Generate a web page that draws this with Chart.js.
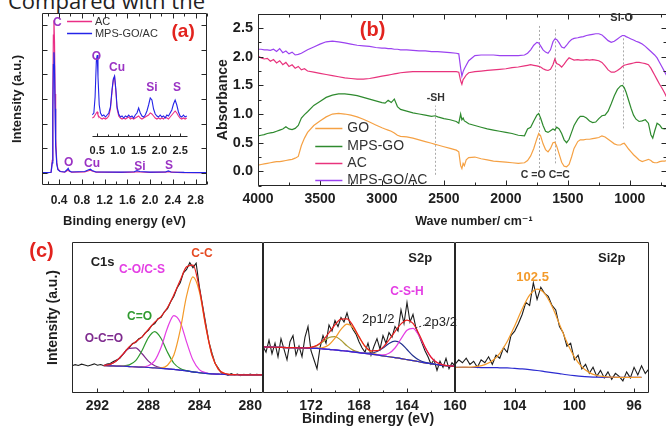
<!DOCTYPE html>
<html>
<head>
<meta charset="utf-8">
<script src="https://cdn.jsdelivr.net/npm/chart.js@4.4.1/dist/chart.umd.min.js"></script>
<style>
  html, body { margin: 0; padding: 0; background: #fff; }
  body { width: 666px; height: 426px; position: relative; overflow: hidden; }
  canvas { position: absolute; }
  #cut { position: absolute; left: 8px; top: -12px; font: 22px 'Open Sans', sans-serif; line-height: 24px; color: #222; white-space: nowrap; }
</style>
</head>
<body>
<div id="cut">Compared with the</div>
<canvas id="chartA" width="215" height="232" style="left:0;top:0"></canvas>
<canvas id="chartInset" width="116" height="120" style="left:82px;top:40px"></canvas>
<canvas id="chartB" width="462" height="232" style="left:205px;top:0"></canvas>
<canvas id="chartC1" width="273" height="196" style="left:0;top:230px"></canvas>
<canvas id="chartC2" width="216" height="196" style="left:253px;top:230px"></canvas>
<canvas id="chartC3" width="214" height="196" style="left:445px;top:230px"></canvas>
<script>
// ---- (a) EDS spectra ----
const edsEnergy = [0.10,0.20,0.26,0.28,0.29,0.30,0.31,0.32,0.33,0.34,
                   0.36,0.38,0.42,0.50,0.54,0.56,0.58,0.62,
                   0.85,0.92,0.95,0.98,1.05,
                   1.50,1.72,1.77,1.82,2.00,
                   2.27,2.32,2.37,2.60,3.00];
const edsAC =  [0,0,0.02,0.5,3.0,5.6,6.2,5.3,3.2,1.4,
                0.4,0.15,0.05,0.02,0.08,0.12,0.06,0.02,
                0.03,0.08,0.1,0.07,0.02,
                0.01,0.02,0.04,0.03,0.01,
                0.02,0.04,0.02,0,0];
const edsMPS = [0,0,0.02,0.4,2.4,4.4,4.9,4.3,2.6,1.1,
                0.35,0.12,0.05,0.03,0.12,0.18,0.08,0.03,
                0.05,0.12,0.14,0.09,0.03,
                0.02,0.04,0.08,0.05,0.02,
                0.03,0.07,0.03,0.01,0];
const edsTicks = [0.2,0.4,0.6,0.8,1.0,1.2,1.4,1.6,1.8,2.0,2.2,2.4,2.6,2.8,3.0];
const edsTickLabels = [0.4,0.8,1.2,1.6,2.0,2.4,2.8];
const edsIntensityTicks = [0,1,2,3,4,5,6];
// inset (zoomed)
const insetEnergy = [0.38,0.42,0.45,0.48,0.50,0.52,0.55,0.58,0.62,
  0.66,0.70,0.74,0.78,0.82,0.86,0.89,0.92,0.95,0.98,
  1.02,1.06,1.10,1.14,1.18,1.22,1.26,1.30,1.34,1.38,1.42,1.46,1.50,1.54,1.58,1.62,1.66,1.70,1.74,1.78,1.82,1.86,1.90,1.94,1.98,
  2.02,2.06,2.10,2.14,2.18,2.22,2.26,2.30,2.34,2.38,2.42,2.46,2.50,2.54,2.58,2.62,2.66];
const insetMPS = [22,24,40,76,82,60,32,24,21,
  22,20,22,24,30,48,58,61,48,30,
  23,20,21,19,21,20,22,20,21,19,22,24,29,24,21,20,22,26,32,39,37,28,23,21,20,
  22,20,21,19,22,21,24,27,33,37,32,25,21,20,22,20,21];
const insetAC = [19,20,22,24,25,22,20,19,18,
  19,18,19,21,28,46,57,60,46,28,
  21,19,18,19,18,19,20,18,19,18,19,20,21,19,18,19,20,21,22,24,23,21,19,18,19,
  18,19,18,20,19,18,20,22,24,26,24,21,19,18,19,18,19];
const insetTicks = [0.5,0.75,1.0,1.25,1.5,1.75,2.0,2.25,2.5];
const insetTickLabels = [0.5,1.0,1.5,2.0,2.5];

// ---- (b) FTIR ----
const waveNumber = [4000,3975,3950,3925,3900,3875,3850,3825,3800,3775,3750,3725,3700,3675,3650,3625,3600,
  3550,3500,3450,3400,3350,3300,3250,3200,3150,3100,3050,3000,
  2975,2950,2925,2900,2875,2850,2800,2750,2700,2650,2600,2570,2550,2500,2450,2400,
  2380,2365,2355,2345,2335,2320,2300, 2250,2200,2150,2100,2050,2000,1950,1900,1850,
  1825,1800,1775,1750,1735,1720,1700,1680,1660,1640, 1620,1605,1590,1570,1550,1530,1510,1490,1470,1450, 1420,1400,
  1375,1350,1325,1300,1275,1250,1225,1200, 1175,1150,1125,1100,1075,1060,1045,1030,
  1010,990,970,950,925,900,875,850, 830,815,800,780,760,740,720,700];
const absGO = [0.11,0.12,0.13,0.14,0.15,0.16,0.17,0.17,0.18,0.19,0.20,0.21,0.23,0.26,0.45,0.58,0.68,
  0.80,0.88,0.95,1.00,1.01,1.00,0.98,0.95,0.91,0.86,0.81,0.76,
  0.74,0.72,0.70,0.67,0.63,0.61,0.60,0.58,0.55,0.52,0.49,0.47,0.46,0.43,0.40,0.37,
  0.34,0.10,0.05,0.14,0.10,0.20,0.24, 0.25,0.22,0.20,0.18,0.17,0.16,0.15,0.14,0.15,
  0.19,0.27,0.40,0.57,0.66,0.62,0.48,0.38,0.34,0.40, 0.50,0.51,0.44,0.30,0.16,0.09,0.08,0.12,0.25,0.40, 0.52,0.55,
  0.55,0.56,0.56,0.57,0.58,0.59,0.62,0.60, 0.56,0.52,0.48,0.46,0.46,0.48,0.49,0.45,
  0.39,0.34,0.29,0.25,0.20,0.17,0.19,0.21, 0.19,0.16,0.15,0.15,0.17,0.18,0.18,0.19];
const absMPSGO = [0.62,0.63,0.64,0.66,0.67,0.68,0.70,0.72,0.74,0.78,0.74,0.73,0.75,0.80,0.93,0.99,1.04,
  1.15,1.22,1.29,1.33,1.35,1.35,1.34,1.32,1.29,1.26,1.23,1.20,
  1.19,1.24,1.20,1.26,1.13,1.08,1.05,1.02,1.00,0.98,0.96,0.97,0.95,0.92,0.90,0.87,
  0.84,1.00,0.90,0.93,0.88,0.86,0.83, 0.80,0.77,0.74,0.72,0.70,0.68,0.66,0.63,0.62,
  0.74,0.77,0.88,0.98,1.01,0.93,0.80,0.70,0.68,0.71, 0.74,0.72,0.77,0.74,0.66,0.55,0.50,0.56,0.68,0.80, 0.91,0.96,
  0.96,0.93,0.88,0.85,0.86,0.92,0.97,0.98, 1.05,1.18,1.32,1.43,1.49,1.50,1.46,1.38,
  1.24,1.10,0.98,0.91,0.87,0.88,0.90,0.84, 0.64,0.58,0.70,0.84,0.81,0.75,0.74,0.75];
const absAC = [2.01,1.98,1.96,1.97,1.92,1.95,1.89,1.93,1.86,1.90,1.83,1.86,1.80,1.83,1.77,1.79,1.75,
  1.73,1.71,1.69,1.67,1.65,1.63,1.62,1.61,1.61,1.62,1.64,1.66,
  1.67,1.68,1.69,1.70,1.71,1.72,1.73,1.74,1.74,1.74,1.74,1.74,1.74,1.74,1.74,1.74,
  1.73,1.58,1.52,1.60,1.63,1.68,1.72, 1.74,1.75,1.76,1.77,1.78,1.79,1.81,1.82,1.84,
  1.85,1.86,1.85,1.84,1.83,1.82,1.79,1.77,1.76,1.78, 1.86,1.96,1.88,1.86,1.82,1.87,1.93,1.98,1.96,1.94, 1.95,1.94,
  1.94,1.95,1.94,1.95,1.94,1.93,1.90,1.84, 1.77,1.73,1.73,1.76,1.80,1.83,1.85,1.86,
  1.87,1.88,1.89,1.90,1.90,1.89,1.88,1.86, 1.80,1.74,1.68,1.60,1.52,1.45,1.37,1.28];
const absMPSGOAC = [2.13,2.13,2.12,2.12,2.11,2.13,2.09,2.14,2.07,2.10,2.05,2.08,2.03,2.04,2.06,2.09,2.12,
  2.17,2.22,2.26,2.27,2.26,2.24,2.22,2.20,2.19,2.18,2.16,2.15,
  2.15,2.14,2.14,2.13,2.13,2.12,2.12,2.11,2.10,2.10,2.09,2.09,2.09,2.08,2.07,2.06,
  2.05,1.80,1.66,1.74,1.79,1.85,1.93, 2.02,2.03,2.03,2.03,2.02,2.02,2.02,2.02,2.03,
  2.06,2.12,2.20,2.25,2.24,2.19,2.12,2.08,2.06,2.12, 2.26,2.31,2.30,2.24,2.17,2.15,2.20,2.26,2.30,2.32, 2.33,2.34,
  2.35,2.37,2.38,2.39,2.40,2.40,2.38,2.33, 2.28,2.25,2.27,2.31,2.35,2.37,2.37,2.35,
  2.33,2.31,2.29,2.27,2.25,2.22,2.18,2.13, 2.09,2.06,2.03,1.98,1.90,1.82,1.74,1.66];
const ftirSeries = ['GO', 'MPS-GO', 'AC', 'MPS-GO/AC'];
const waveTicks = [750,1000,1250,1500,1750,2000,2250,2500,2750,3000,3250,3500,3750,4000];
const waveTickLabels = [1000,1500,2000,2500,3000,3500,4000];
const absTicks = [-0.25,0,0.25,0.5,0.75,1.0,1.25,1.5,1.75,2.0,2.25,2.5,2.75];
const absTickLabels = [0,0.5,1.0,1.5,2.0,2.5];

// ---- (c) XPS C1s ----
const c1sRawBE = [294,293.75,293.5,293.25,293,292.75,292.5,292.25,292,291.75,291.5,291.25,291,290.75,290.5,290.25,
  290,289.75,289.5,289.25,289,288.75,288.5,288.25,288,287.75,287.5,287.25,287,286.75,286.5,286.25,
  286,285.75,285.5,285.25,285,284.75,284.5,284.25,284,283.75,283.5,283.25,283,282.75,282.5,282.25,
  282,281.75,281.5,281.25,281,280.75,280.5,280.25,280,279.75,279.5,279.25,279];
const c1sRaw = [18.0,18.8,18.2,19.1,18.5,17.9,18.6,19.3,18.4,18.9,18.1,19.2,19.5,20.8,21.9,23.0,
  25.5,28.4,30.0,32.8,33.5,35.9,37.0,39.8,41.5,44.6,46.0,49.2,50.1,53.8,55.9,60.4,
  64.1,69.5,73.0,79.6,81.8,86.3,83.0,85.9,70.5,58.2,46.1,34.0,26.2,19.5,16.3,13.1,
  12.9,11.6,12.8,11.9,12.5,11.5,12.4,11.8,12.6,11.7,12.3,12.0,12.2];
const c1sFitBE = [291.5,291,290.5,290,289.5,289,288.5,288,287.5,287,286.5,286,285.5,285,284.5,284,283.5,283,282.5,282,281.5,281,280.5,280,279.5,279];
const c1sBg    = [18.1,18.0,17.8,17.7,17.5,17.3,17.1,16.9,16.6,16.3,16.0,15.6,15.1,14.6,14.0,13.4,13.0,12.7,12.5,12.3,12.2,12.1,12.0,12.0,12.0,12.0];
const c1sOCO   = [18.3,19.0,21.3,25.6,29.6,29.9,26.0,21.1,18.0,16.6,16.0,15.6,15.1,14.6,14.0,13.4,13.0,12.7,12.5,12.3,12.2,12.1,12.0,12.0,12.0,12.0];
const c1sCO2   = [18.1,18.0,17.8,17.9,18.6,21.4,28.1,36.7,40.6,36.1,27.0,19.7,16.2,14.8,14.0,13.4,13.0,12.7,12.5,12.3,12.2,12.1,12.0,12.0,12.0,12.0];
const c1sCOCS  = [18.1,18.0,17.8,17.7,17.5,17.3,17.3,18.1,21.5,30.3,43.2,51.3,46.9,33.7,21.8,15.5,13.4,12.7,12.5,12.3,12.2,12.1,12.0,12.0,12.0,12.0];
const c1sCC    = [18.1,18.0,17.8,17.7,17.5,17.3,17.1,16.9,16.6,16.7,18.4,25.2,41.7,64.3,76.9,67.2,44.1,24.9,15.7,12.9,12.2,12.1,12.0,12.0,12.0,12.0];
const c1sSum   = [18.3,19.0,21.3,25.8,30.7,34.0,37.2,42.1,46.9,50.8,56.6,65.0,74.6,83.6,84.7,69.3,44.5,24.9,15.7,12.9,12.2,12.1,12.0,12.0,12.0,12.0];
const c1sTicks = [280,282,284,286,288,290,292,294];
const c1sTickLabels = [292, 288, 284, 280];

// ---- (c) XPS S2p ----
const s2pRawBE = [176,175.75,175.5,175.25,175,174.75,174.5,174.25,174,173.75,173.5,173.25,173,172.75,172.5,172.25,
  172,171.75,171.5,171.25,171,170.75,170.5,170.25,170,169.75,169.5,169.25,169,168.75,168.5,168.25,
  168,167.75,167.5,167.25,167,166.75,166.5,166.25,166,165.75,165.5,165.25,165,164.75,164.5,164.25,
  164,163.75,163.5,163.25,163,162.75,162.5,162.25,162,161.75,161.5,161.25,161,160.75,160.5,160.25,160];
const s2pRaw = [31,27,35,26,33,24,36,29,22,34,38,25,31,24,37,44,
  28,22,16,30,38,33,45,41,48,44,50,47,53,46,42,39,
  34,30,27,33,25,31,36,29,38,33,40,37,44,41,55,46,
  60,47,52,43,38,33,28,24,19,22,15,21,17,23,16,20,18];
const s2pFitBE = [176,175.5,175,174.5,174,173.5,173,172.5,172,171.5,171,170.5,170,169.5,169,168.5,168,167.5,167,166.5,166,165.5,165,164.5,164,163.5,163,162.5,162,161.5,161,160.5,160];
const s2pBg   = [30.5,30.4,30.3,30.2,30.1,30.0,29.9,29.8,29.7,29.5,29.2,28.9,28.5,28.1,27.7,27.2,26.7,26.2,25.7,25.2,24.6,24.0,23.4,22.8,22.1,21.4,20.7,20.0,19.4,18.8,18.3,18.0,17.8];
const s2pOx1  = [30.5,30.4,30.3,30.2,30.1,30.0,29.9,29.8,30.2,31.4,34.0,36.8,37.4,34.9,31.2,28.4,27.0,26.2,25.7,25.2,24.6,24.0,23.4,22.8,22.1,21.4,20.7,20.0,19.4,18.8,18.3,18.0,17.8];
const s2pOx2  = [30.5,30.4,30.3,30.2,30.1,30.0,29.9,29.8,29.7,29.7,30.1,32.0,36.3,42.1,45.6,43.3,37.0,30.8,27.2,25.5,24.6,24.0,23.4,22.8,22.1,21.4,20.7,20.0,19.4,18.8,18.3,18.0,17.8];
const s2pP12  = [30.5,30.4,30.3,30.2,30.1,30.0,29.9,29.8,29.7,29.5,29.2,28.9,28.5,28.1,27.7,27.2,26.7,26.4,26.4,27.5,29.8,32.8,34.3,32.8,28.8,24.7,21.9,20.3,19.4,18.8,18.3,18.0,17.8];
const s2pP32  = [30.5,30.4,30.3,30.2,30.1,30.0,29.9,29.8,29.7,29.5,29.2,28.9,28.5,28.1,27.7,27.2,26.7,26.2,25.7,25.3,25.2,26.3,29.8,35.8,41.6,42.8,37.9,30.2,23.8,20.2,18.6,18.0,17.8];
const s2pSum  = [30.5,30.4,30.3,30.2,30.1,30.0,29.9,29.8,30.2,31.6,34.9,39.9,45.2,48.9,49.1,44.5,37.3,31.0,27.9,28.0,30.4,35.1,40.7,45.8,48.3,46.1,39.1,30.5,23.8,20.2,18.6,18.0,17.8];
const s2pTicks = [160,162,164,166,168,170,172,174,176];
const s2pTickLabels = [172, 168, 164, 160];

// ---- (c) XPS Si2p ----
const si2pRawBE = [108,107.75,107.5,107.25,107,106.75,106.5,106.25,106,105.75,105.5,105.25,105,104.75,104.5,104.25,
  104,103.75,103.5,103.25,103,102.75,102.5,102.25,102,101.75,101.5,101.25,101,100.75,100.5,100.25,
  100,99.75,99.5,99.25,99,98.75,98.5,98.25,98,97.75,97.5,97.25,97,96.75,96.5,96.25,96,95.75,95.5,95.25,95];
const si2pRaw = [19,22,20,23,19,21,17,22,20,24,19,25,23,30,27,38,
  41,46,52,60,58,73,62,70,66,64,58,55,44,40,31,33,
  22,25,16,19,13,17,11,15,10,14,9,13,11,8,14,10,17,12,18,13,16];
const si2pFitBE = [108,107.5,107,106.5,106,105.5,105,104.5,104,103.5,103,102.5,102,101.5,101,100.5,100,99.5,99,98.5,98,97.5,97,96.5,96,95.5];
const si2pBg  = [17.0,17.0,16.9,16.9,16.8,16.8,16.7,16.6,16.3,16.0,15.5,14.9,14.2,13.5,12.8,12.1,11.5,11.0,10.7,10.5,10.4,10.4,10.4,10.4,10.4,10.4];
const si2pFit = [17.0,17.1,17.1,17.6,18.8,21.4,26.3,34.1,44.4,55.6,64.8,68.8,66.0,57.4,45.6,33.6,23.9,17.3,13.5,11.6,10.8,10.5,10.4,10.4,10.4,10.4];
const si2pTicks = [96,98,100,102,104,106,108];
const si2pTickLabels = [104, 100, 96];

// ---------------------------------------------------------------
const FAMILY = "'Liberation Sans', Arial, 'DejaVu Sans', sans-serif";
Chart.defaults.font.family = FAMILY;
Chart.defaults.color = '#1e1e1e';

const RED = '#e2231e';
const PEAK = '#9a33c4';
const font = (size, weight) => (weight || 'normal') + ' ' + size + 'px ' + FAMILY;
const inList = (v, list) => list.some(t => Math.abs(t - v) < 1e-6);

function xy(xs, ys) {
    return xs.map((x, i) => ({ x: x, y: ys[i] }));
}

function line(label, xs, ys, color, extra) {
    return Object.assign({
        label: label,
        data: xy(xs, ys),
        borderColor: color,
        borderWidth: 1.2,
        pointRadius: 0,
        tension: 0,
        fill: false,
    }, extra || {});
}

const smooth = { cubicInterpolationMode: 'monotone' };

// frame, inner ticks, legends and text notes for one chart
function decor(cfg) {
    return {
        id: 'decor',
        beforeDatasetsDraw(chart) {
            const { ctx, scales: { x, y } } = chart;
            ctx.save();
            (cfg.guides || []).forEach(g => {
                ctx.strokeStyle = g.color || '#aaa';
                ctx.lineWidth = 1;
                ctx.setLineDash([2, 2]);
                ctx.beginPath();
                const px = Math.round(x.getPixelForValue(g.x)) + 0.5;
                ctx.moveTo(px, y.getPixelForValue(g.y1));
                ctx.lineTo(px, y.getPixelForValue(g.y2));
                ctx.stroke();
            });
            ctx.restore();
        },
        afterDatasetsDraw(chart) {
            const f = cfg.frame;
            if (!f) return;
            const { ctx, chartArea: a, scales: { x, y } } = chart;
            const L = Math.round(a.left) + 0.5, R = Math.round(a.right) - 0.5;
            const T = Math.round(a.top) + 0.5, B = Math.round(a.bottom) - 0.5;
            const s = f.sides;
            ctx.save();
            ctx.strokeStyle = '#262626';
            ctx.lineWidth = 1;
            ctx.beginPath();
            if (s.includes('bottom')) { ctx.moveTo(L, B); ctx.lineTo(R, B); }
            if (s.includes('top')) { ctx.moveTo(L, T); ctx.lineTo(R, T); }
            if (s.includes('left')) { ctx.moveTo(L, T); ctx.lineTo(L, B); }
            if (s.includes('right')) { ctx.moveTo(R, T); ctx.lineTo(R, B); }
            x.ticks.forEach(t => {
                const p = Math.round(x.getPixelForValue(t.value)) + 0.5;
                const len = t.label !== '' ? f.major : f.minor;
                ctx.moveTo(p, B); ctx.lineTo(p, B - len);
                if (f.mirror) { ctx.moveTo(p, T); ctx.lineTo(p, T + len); }
            });
            if (f.yTicks) {
                y.ticks.forEach(t => {
                    const p = Math.round(y.getPixelForValue(t.value)) + 0.5;
                    const len = t.label !== '' ? f.major : f.minor;
                    ctx.moveTo(L, p); ctx.lineTo(L + len, p);
                    if (f.mirror) { ctx.moveTo(R, p); ctx.lineTo(R - len, p); }
                });
            }
            ctx.stroke();
            ctx.restore();
        },
        afterDraw(chart) {
            const { ctx, scales: { x, y } } = chart;
            ctx.save();
            ctx.textBaseline = 'middle';
            const lg = cfg.legend;
            if (lg) {
                lg.rows.forEach((rowY, i) => {
                    const ds = chart.data.datasets[lg.items[i]];
                    const py = Math.round(y.getPixelForValue(rowY)) + 0.5;
                    ctx.strokeStyle = ds.borderColor;
                    ctx.lineWidth = 1.5;
                    ctx.beginPath();
                    ctx.moveTo(x.getPixelForValue(lg.x1), py);
                    ctx.lineTo(x.getPixelForValue(lg.x2), py);
                    ctx.stroke();
                    ctx.font = lg.font;
                    ctx.fillStyle = '#333';
                    ctx.textAlign = 'left';
                    ctx.fillText(ds.label, x.getPixelForValue(lg.xt), py);
                });
            }
            (cfg.arrows || []).forEach(l => {
                ctx.strokeStyle = l.color;
                ctx.lineWidth = 1;
                ctx.setLineDash([2, 2]);
                ctx.beginPath();
                ctx.moveTo(x.getPixelForValue(l.x1), y.getPixelForValue(l.y1));
                ctx.lineTo(x.getPixelForValue(l.x2), y.getPixelForValue(l.y2));
                ctx.stroke();
                ctx.setLineDash([]);
            });
            (cfg.texts || []).forEach(t => {
                ctx.font = t.font;
                ctx.fillStyle = t.color || '#1e1e1e';
                ctx.textAlign = t.align || 'center';
                ctx.fillText(t.text, x.getPixelForValue(t.x), y.getPixelForValue(t.y));
            });
            ctx.restore();
        }
    };
}

// linear axis whose tick positions come from a fixed list
function axis(o) {
    return {
        type: 'linear',
        display: o.display !== false,
        min: o.min, max: o.max, reverse: !!o.reverse,
        grid: { display: false, drawTicks: false, tickLength: 0 },
        border: { display: false },
        ticks: {
            display: o.size > 0,
            autoSkip: false, maxRotation: 0,
            padding: o.pad || 0, font: { size: o.size || 12, weight: 'bold' }, color: '#1e1e1e',
            callback: v => inList(v, o.labels || []) ? o.format(v) : '',
        },
        title: o.title || { display: false },
        afterBuildTicks: s => { s.ticks = (o.ticks || []).map(v => ({ value: v })); },
        afterFit: s => {
            if (o.height !== undefined) s.height = o.height;
            if (o.width !== undefined) s.width = o.width;
        },
    };
}

function makeChart(id, datasets, o, cfg) {
    return new Chart(document.getElementById(id), {
        type: 'line',
        data: { datasets: datasets },
        options: {
            responsive: false,
            animation: false,
            events: [],
            layout: { padding: o.padding },
            plugins: { legend: { display: false }, tooltip: { enabled: false } },
            scales: { x: o.x, y: o.y },
        },
        plugins: [decor(cfg)],
    });
}

const fixed1 = v => v.toFixed(1);
const whole = v => String(v);

// (a) main EDS
makeChart('chartA', [
    line('MPS-GO/AC', edsEnergy, edsMPS, '#2424e8', { order: 0 }),
    line('AC', edsEnergy, edsAC, '#ea2f86', { order: 1 }),
], {
    padding: { top: 13, right: 8, left: 0, bottom: 0 },
    x: axis({
        min: 0.1, max: 3.0, ticks: edsTicks, labels: edsTickLabels, format: fixed1, pad: 8, size: 12, height: 47,
        title: { display: true, text: 'Binding energy (eV)', font: { size: 13, weight: 'bold' }, color: '#1e1e1e', padding: { top: 0, bottom: 3 } },
    }),
    y: axis({
        min: -0.5, max: 6.5, ticks: edsIntensityTicks, labels: edsIntensityTicks, format: whole, size: 0, width: 42,
        title: { display: true, text: 'Intensity (a.u.)', font: { size: 13, weight: 'bold' }, color: '#1e1e1e', padding: { top: 10, bottom: 0 } },
    }),
}, {
    frame: { sides: ['bottom', 'top', 'left', 'right'], major: 5, minor: 3, mirror: true, yTicks: true },
    legend: { items: [1, 0], rows: [6.19, 5.69], x1: 0.54, x2: 0.98, xt: 1.03, font: font(11) },
    texts: [
        { text: 'C', x: 0.37, y: 6.1, color: PEAK, font: font(12, 'bold') },
        { text: 'O', x: 0.57, y: 0.42, color: PEAK, font: font(12, 'bold') },
        { text: 'Cu', x: 0.98, y: 0.38, color: PEAK, font: font(12, 'bold') },
        { text: 'Si', x: 1.82, y: 0.25, color: PEAK, font: font(12, 'bold') },
        { text: 'S', x: 2.33, y: 0.3, color: PEAK, font: font(12, 'bold') },
        { text: '(a)', x: 2.58, y: 5.73, color: RED, font: font(19, 'bold') },
    ],
});

// (a) inset
makeChart('chartInset', [
    line('MPS-GO/AC', insetEnergy, insetMPS, '#2424e8', { order: 0, borderWidth: 1.1 }),
    line('AC', insetEnergy, insetAC, '#ea2f86', { order: 1, borderWidth: 1.1 }),
], {
    padding: { top: 10, right: 10, left: 10, bottom: 0 },
    x: axis({ min: 0.38, max: 2.69, ticks: insetTicks, labels: insetTickLabels, format: fixed1, pad: 7, size: 11, height: 23 }),
    y: { type: 'linear', display: false, min: 0, max: 87 },
}, {
    frame: { sides: ['bottom'], major: 3, minor: 2 },
    texts: [
        { text: 'O', x: 0.48, y: 80, color: PEAK, font: font(12, 'bold') },
        { text: 'Cu', x: 0.98, y: 69, color: PEAK, font: font(12, 'bold') },
        { text: 'Si', x: 1.82, y: 49, color: PEAK, font: font(12, 'bold') },
        { text: 'S', x: 2.425, y: 49, color: PEAK, font: font(12, 'bold') },
    ],
});

// (b) FTIR
makeChart('chartB', [
    line(ftirSeries[0], waveNumber, absGO, '#f5a144'),
    line(ftirSeries[1], waveNumber, absMPSGO, '#2e8a2e'),
    line(ftirSeries[2], waveNumber, absAC, '#e8337c'),
    line(ftirSeries[3], waveNumber, absMPSGOAC, '#9b42f0'),
], {
    padding: { top: 12.7, right: 0, left: 0, bottom: 0 },
    x: axis({ min: 700, max: 4000, reverse: true, ticks: waveTicks, labels: waveTickLabels, format: whole, pad: 5, size: 14, height: 46.3 }),
    y: axis({
        min: -0.25, max: 2.75, ticks: absTicks, labels: absTickLabels, format: fixed1, pad: 5, size: 14.5, width: 53,
        title: { display: true, text: 'Absorbance', font: { size: 14, weight: 'bold' }, color: '#1e1e1e', padding: { top: 10, bottom: 0 } },
    }),
}, {
    frame: { sides: ['bottom', 'top', 'left', 'right'], major: 5, minor: 3, mirror: true, yTicks: true },
    guides: [
        { x: 2570, y1: -0.06, y2: 1.15 },
        { x: 1733, y1: -0.01, y2: 2.54 },
        { x: 1603, y1: 0.14, y2: 2.50 },
        { x: 1053, y1: 0.75, y2: 2.36 },
    ],
    legend: { items: [0, 1, 2, 3], rows: [0.75, 0.44, 0.144, -0.15], x1: 3538, x2: 3319, xt: 3279, font: font(14) },
    texts: [
        { text: '(b)', x: 3076, y: 2.45, color: RED, font: font(20, 'bold') },
        { text: '-SH', x: 2566, y: 1.27, color: '#333', font: font(10.5, 'bold') },
        { text: 'C =O', x: 1780, y: -0.06, color: '#333', font: font(10.5, 'bold') },
        { text: 'C=C', x: 1569, y: -0.06, color: '#333', font: font(10.5, 'bold') },
        { text: 'Si-O', x: 1066, y: 2.68, color: '#333', font: font(11, 'bold') },
        { text: 'Wave number/ cm\u207B\u00B9', x: 2258, y: -0.88, color: '#1e1e1e', font: font(12.5, 'bold') },
    ],
});

// (c) C1s
makeChart('chartC1', [
    line('C1s data', c1sRawBE, c1sRaw, '#1c1c1c', { order: 9, borderWidth: 1.1 }),
    line('O-C=O', c1sFitBE, c1sOCO, '#7e2a8e', Object.assign({ order: 5 }, smooth)),
    line('C=O', c1sFitBE, c1sCO2, '#2f9a2f', Object.assign({ order: 4 }, smooth)),
    line('C-O/C-S', c1sFitBE, c1sCOCS, '#e43ee4', Object.assign({ order: 3 }, smooth)),
    line('C-C', c1sFitBE, c1sCC, '#f39a2a', Object.assign({ order: 2 }, smooth)),
    line('Background', c1sFitBE, c1sBg, '#2b2bd0', Object.assign({ order: 1 }, smooth)),
    line('Envelope', c1sFitBE, c1sSum, '#e8201e', Object.assign({ order: 0 }, smooth)),
], {
    padding: { top: 12, right: 10, left: 0, bottom: 0 },
    x: axis({ min: 279, max: 294, reverse: true, ticks: c1sTicks, labels: c1sTickLabels, format: whole, pad: 5, size: 14, height: 33 }),
    y: axis({
        min: 0, max: 100, size: 0, width: 72, format: whole,
        title: { display: true, text: 'Intensity (a.u.)', font: { size: 14, weight: 'bold' }, color: '#1e1e1e', padding: { top: 44.6, bottom: 0 } },
    }),
}, {
    frame: { sides: ['bottom', 'top', 'left', 'right'], major: 4, minor: 2 },
    texts: [
        { text: '(c)', x: 296.4, y: 94, color: RED, font: font(20, 'bold') },
        { text: 'C1s', x: 291.6, y: 86.8, font: font(13, 'bold') },
        { text: 'C-O/C-S', x: 288.5, y: 81.5, color: '#e43ee4', font: font(12, 'bold') },
        { text: 'C-C', x: 283.8, y: 92, color: '#e54a22', font: font(12, 'bold') },
        { text: 'C=O', x: 288.7, y: 50.3, color: '#2f9a2f', font: font(12, 'bold') },
        { text: 'O-C=O', x: 291.5, y: 35.8, color: '#7e2a8e', font: font(12, 'bold') },
    ],
});

// (c) S2p
makeChart('chartC2', [
    line('S2p data', s2pRawBE, s2pRaw, '#1c1c1c', { order: 9, borderWidth: 1.1 }),
    line('S ox 1', s2pFitBE, s2pOx1, '#a89a30', Object.assign({ order: 5 }, smooth)),
    line('S ox 2', s2pFitBE, s2pOx2, '#f39a2a', Object.assign({ order: 4 }, smooth)),
    line('2p1/2', s2pFitBE, s2pP12, '#23328f', Object.assign({ order: 3 }, smooth)),
    line('2p3/2', s2pFitBE, s2pP32, '#e43ee4', Object.assign({ order: 2 }, smooth)),
    line('Background', s2pFitBE, s2pBg, '#2b2bd0', Object.assign({ order: 1 }, smooth)),
    line('Envelope', s2pFitBE, s2pSum, '#e8201e', Object.assign({ order: 0 }, smooth)),
], {
    padding: { top: 12, right: 14, left: 10, bottom: 0 },
    x: axis({ min: 160, max: 176, reverse: true, ticks: s2pTicks, labels: s2pTickLabels, format: whole, pad: 5, size: 14, height: 33 }),
    y: { type: 'linear', display: false, min: 0, max: 100 },
}, {
    frame: { sides: ['bottom', 'top', 'left', 'right'], major: 4, minor: 2 },
    arrows: [{ x1: 163.3, y1: 43, x2: 162.0, y2: 46.4, color: '#333' }],
    texts: [
        { text: 'S2p', x: 162.9, y: 89.4, font: font(13, 'bold') },
        { text: 'C-S-H', x: 164.0, y: 66.9, color: '#e43ee4', font: font(12, 'bold') },
        { text: '2p1/2', x: 166.4, y: 49, color: '#222', font: font(13) },
        { text: '2p3/2', x: 161.2, y: 47, color: '#222', font: font(13) },
        { text: 'Binding energy (eV)', x: 167.25, y: -17.2, font: font(14, 'bold') },
    ],
});

// (c) Si2p
makeChart('chartC3', [
    line('Si2p data', si2pRawBE, si2pRaw, '#1c1c1c', { order: 9, borderWidth: 1.1 }),
    line('Background', si2pFitBE, si2pBg, '#2b2bd0', Object.assign({ order: 1 }, smooth)),
    line('Si-O', si2pFitBE, si2pFit, '#f39a2a', Object.assign({ order: 0 }, smooth)),
], {
    padding: { top: 12, right: 10, left: 10, bottom: 0 },
    x: axis({ min: 95, max: 108, reverse: true, ticks: si2pTicks, labels: si2pTickLabels, format: whole, pad: 5, size: 14, height: 33 }),
    y: { type: 'linear', display: false, min: 0, max: 100 },
}, {
    frame: { sides: ['bottom', 'top', 'left', 'right'], major: 4, minor: 2 },
    texts: [
        { text: 'Si2p', x: 97.5, y: 89.4, font: font(13, 'bold') },
        { text: '102.5', x: 102.8, y: 76.8, color: '#f39a2a', font: font(13, 'bold') },
    ],
});
</script>
</body>
</html>
